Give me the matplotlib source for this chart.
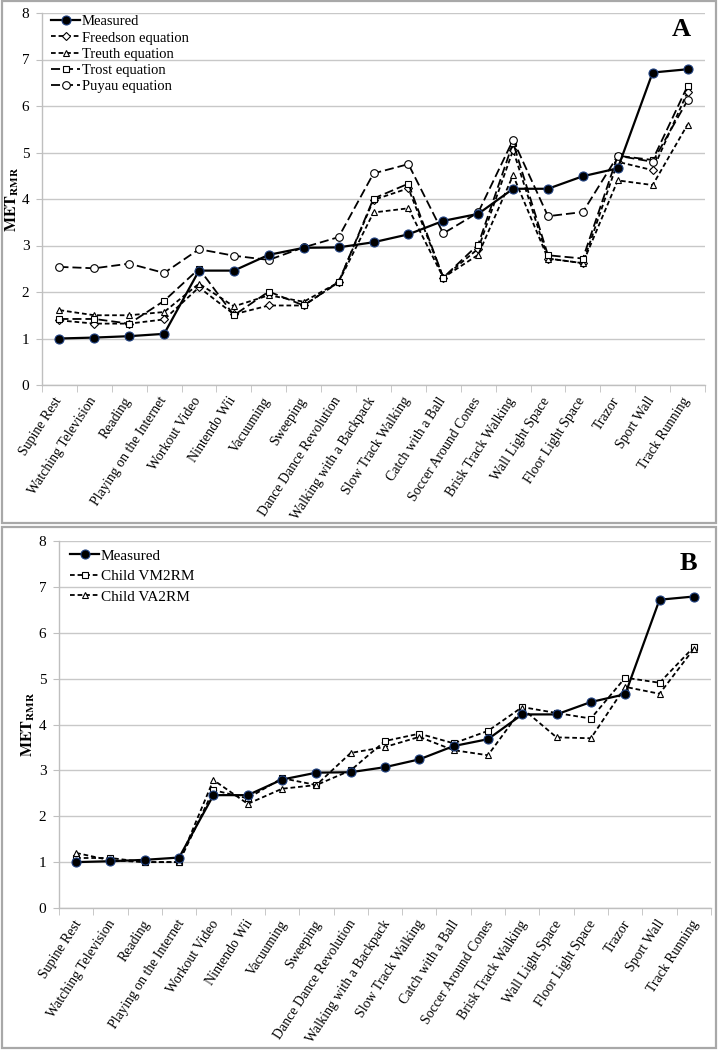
import numpy as np
import matplotlib
matplotlib.use('Agg')
import matplotlib.pyplot as plt
from matplotlib.patches import Rectangle
from matplotlib.transforms import ScaledTranslation

activities = ['Supine Rest', 'Watching Television', 'Reading', 'Playing on the Internet',
              'Workout Video', 'Nintendo Wii', 'Vacuuming', 'Sweeping',
              'Dance Dance Revolution', 'Walking with a Backpack', 'Slow Track Walking',
              'Catch with a Ball', 'Soccer Around Cones', 'Brisk Track Walking',
              'Wall Light Space', 'Floor Light Space', 'Trazor', 'Sport Wall', 'Track Running']

# measured MET_RMR (same in both panels)
measured = [1.0, 1.02, 1.05, 1.1, 2.46, 2.46, 2.8, 2.95, 2.96, 3.07, 3.24, 3.53, 3.68,
            4.22, 4.22, 4.49, 4.66, 6.72, 6.79]

# panel A - published equations
freedson = [1.39, 1.32, 1.32, 1.41, 2.1, 1.52, 1.71, 1.71, 2.21, 3.98, 4.23, 2.31, 2.93,
            5.05, 2.72, 2.62, 4.8, 4.62, 6.3]
treuth = [1.61, 1.5, 1.5, 1.57, 2.18, 1.69, 1.93, 1.79, 2.21, 3.71, 3.8, 2.31, 2.8,
          4.51, 2.72, 2.62, 4.4, 4.3, 5.6]
trost = [1.42, 1.42, 1.32, 1.81, 2.5, 1.5, 2.01, 1.71, 2.21, 4.01, 4.33, 2.31, 3.02,
         5.21, 2.79, 2.72, 4.93, 4.84, 6.43]
puyau = [2.54, 2.51, 2.61, 2.41, 2.92, 2.78, 2.69, 2.96, 3.18, 4.55, 4.75, 3.26, 3.71,
         5.27, 3.63, 3.72, 4.93, 4.8, 6.12]

# panel B - child equations
child_vm2rm = [1.09, 1.09, 1.0, 1.0, 2.57, 2.39, 2.83, 2.68, 3.0, 3.64, 3.8, 3.59, 3.86,
               4.38, 4.25, 4.13, 5.02, 4.91, 5.69]
child_va2rm = [1.2, 1.04, 1.0, 1.0, 2.79, 2.27, 2.6, 2.68, 3.38, 3.51, 3.73, 3.44, 3.33,
               4.35, 3.72, 3.7, 4.82, 4.67, 5.65]

plt.rcParams['font.family'] = ['Liberation Serif', 'DejaVu Serif']
plt.rcParams['mathtext.fontset'] = 'stix'

W, H = 718, 1050
fig = plt.figure(figsize=(W / 100, H / 100), dpi=100)


def px_box(l, t, r, b):
    return [l / W, 1 - b / H, (r - l) / W, (b - t) / H]


# grey frames around each panel
for t, b in [(1, 523), (527, 1048)]:
    fig.add_artist(Rectangle((2 / W, 1 - b / H), 714 / W, (b - t) / H,
                             transform=fig.transFigure, fill=False,
                             ec='#a8a8a8', lw=1.6))

x = np.arange(len(activities))
grey = '#bfbfbf'


def style(ax, shift):
    ax.set_xlim(-0.5, len(activities) - 0.5)
    ax.set_ylim(0, 8)
    ax.set_yticks(range(9))
    ax.yaxis.grid(True, color='#c8c8c8', lw=1)
    ax.set_axisbelow(True)
    for s in ['top', 'right']:
        ax.spines[s].set_visible(False)
    for s in ['left', 'bottom']:
        ax.spines[s].set_color(grey)
        ax.spines[s].set_linewidth(1)
    ax.tick_params(axis='y', length=4, color=grey, labelsize=11, pad=5)
    ax.set_xticks(x)
    ax.set_xticklabels(activities, rotation=57, ha='right', rotation_mode='anchor', fontsize=10)
    ax.tick_params(axis='x', which='major', length=0, pad=7)
    off = ScaledTranslation(shift / 100, 0, fig.dpi_scale_trans)
    for lab in ax.get_xticklabels():
        lab.set_transform(lab.get_transform() + off)
    ax.set_xticks(np.arange(-0.5, len(activities), 1), minor=True)
    ax.tick_params(axis='x', which='minor', length=5, color=grey)
    ax.set_ylabel(r'$\mathbf{MET_{RMR}}$', fontsize=11.5)


def plot_measured(ax):
    ax.plot(x, measured, color='black', lw=1.6, marker='o', ms=6.5,
            mfc='black', mec='#1f4080', mew=0.8, label='Measured', zorder=5)


short = (2.6, 1.6)
long_ = (5, 2.2)

# panel A
axA = fig.add_axes(px_box(42, 13, 705, 385))
style(axA, -6)
plot_measured(axA)
axA.plot(x, freedson, color='black', lw=1.3, dashes=short, marker='D', ms=4,
         mfc='white', mec='black', mew=0.8, label='Freedson equation')
axA.plot(x, treuth, color='black', lw=1.3, dashes=short, marker='^', ms=5,
         mfc='white', mec='black', mew=0.8, label='Treuth equation')
axA.plot(x, trost, color='black', lw=1.3, dashes=long_, marker='s', ms=5,
         mfc='white', mec='black', mew=0.8, label='Trost equation')
axA.plot(x, puyau, color='black', lw=1.3, dashes=long_, marker='o', ms=5.5,
         mfc='white', mec='black', mew=0.8, label='Puyau equation')
axA.legend(loc='upper left', bbox_to_anchor=(0.005, 1.01), frameon=False, fontsize=10.5,
           labelspacing=0.21, handlelength=2.0, handletextpad=0.1, borderaxespad=0)
axA.yaxis.set_label_coords(-0.032, 0.5)
axA.text(0.965, 0.955, 'A', transform=axA.transAxes, fontsize=19, fontweight='bold',
         ha='center', va='center')

# panel B
axB = fig.add_axes(px_box(59, 541, 711, 908))
style(axB, -3)
plot_measured(axB)
axB.plot(x, child_vm2rm, color='black', lw=1.3, dashes=short, marker='s', ms=5,
         mfc='white', mec='black', mew=0.8, label='Child VM2RM')
axB.plot(x, child_va2rm, color='black', lw=1.3, dashes=short, marker='^', ms=5,
         mfc='white', mec='black', mew=0.8, label='Child VA2RM')
axB.legend(loc='upper left', bbox_to_anchor=(0.008, 0.995), frameon=False, fontsize=11,
           labelspacing=0.45, handlelength=1.9, handletextpad=0.1, borderaxespad=0)
axB.yaxis.set_label_coords(-0.034, 0.5)
axB.text(0.965, 0.94, 'B', transform=axB.transAxes, fontsize=19, fontweight='bold',
         ha='center', va='center')

fig.savefig('out.png', dpi=100)
